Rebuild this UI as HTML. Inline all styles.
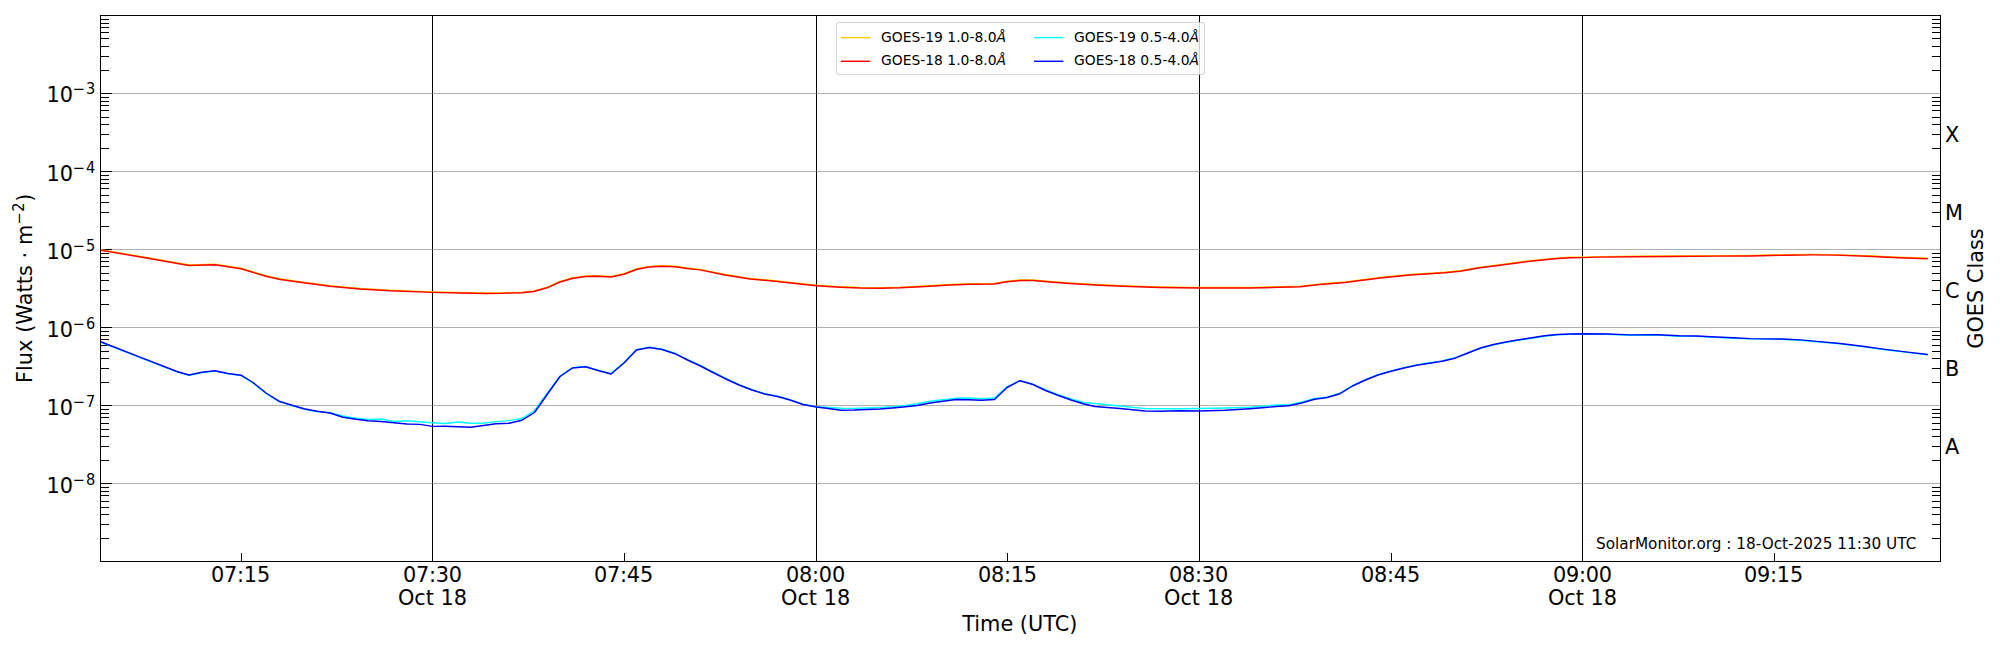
<!DOCTYPE html>
<html lang="en"><head><meta charset="utf-8"><title>GOES X-ray Flux</title>
<style>html,body{margin:0;padding:0;background:#fff;}body{width:2000px;height:650px;overflow:hidden;}svg{display:block;}text{font-family:"DejaVu Sans","Liberation Sans",sans-serif;fill:#000;}.i{font-family:"DejaVu Sans","Liberation Sans",sans-serif;font-style:italic;}</style></head><body>
<svg width="2000" height="650" viewBox="0 0 2000 650">
<rect x="0" y="0" width="2000" height="650" fill="#fff"/>
<g stroke="#000" stroke-width="1.1" shape-rendering="crispEdges">
<line x1="432.5" y1="15.5" x2="432.5" y2="561.5"/>
<line x1="816.5" y1="15.5" x2="816.5" y2="561.5"/>
<line x1="1199.5" y1="15.5" x2="1199.5" y2="561.5"/>
<line x1="1582.5" y1="15.5" x2="1582.5" y2="561.5"/>
</g>
<g stroke="#808080" stroke-opacity="0.62" stroke-width="1.1" shape-rendering="crispEdges">
<line x1="100.5" y1="93.5" x2="1940.5" y2="93.5"/>
<line x1="100.5" y1="171.5" x2="1940.5" y2="171.5"/>
<line x1="100.5" y1="249.5" x2="1940.5" y2="249.5"/>
<line x1="100.5" y1="327.5" x2="1940.5" y2="327.5"/>
<line x1="100.5" y1="405.5" x2="1940.5" y2="405.5"/>
<line x1="100.5" y1="483.5" x2="1940.5" y2="483.5"/>
</g>
<g stroke="#000" stroke-width="1.1" shape-rendering="crispEdges">
<line x1="100.5" y1="70.5" x2="108.8" y2="70.5"/>
<line x1="1932.2" y1="70.5" x2="1940.5" y2="70.5"/>
<line x1="100.5" y1="56.5" x2="108.8" y2="56.5"/>
<line x1="1932.2" y1="56.5" x2="1940.5" y2="56.5"/>
<line x1="100.5" y1="46.5" x2="108.8" y2="46.5"/>
<line x1="1932.2" y1="46.5" x2="1940.5" y2="46.5"/>
<line x1="100.5" y1="38.5" x2="108.8" y2="38.5"/>
<line x1="1932.2" y1="38.5" x2="1940.5" y2="38.5"/>
<line x1="100.5" y1="32.5" x2="108.8" y2="32.5"/>
<line x1="1932.2" y1="32.5" x2="1940.5" y2="32.5"/>
<line x1="100.5" y1="27.5" x2="108.8" y2="27.5"/>
<line x1="1932.2" y1="27.5" x2="1940.5" y2="27.5"/>
<line x1="100.5" y1="23.5" x2="108.8" y2="23.5"/>
<line x1="1932.2" y1="23.5" x2="1940.5" y2="23.5"/>
<line x1="100.5" y1="19.5" x2="108.8" y2="19.5"/>
<line x1="1932.2" y1="19.5" x2="1940.5" y2="19.5"/>
<line x1="100.5" y1="148.5" x2="108.8" y2="148.5"/>
<line x1="1932.2" y1="148.5" x2="1940.5" y2="148.5"/>
<line x1="100.5" y1="134.5" x2="108.8" y2="134.5"/>
<line x1="1932.2" y1="134.5" x2="1940.5" y2="134.5"/>
<line x1="100.5" y1="124.5" x2="108.8" y2="124.5"/>
<line x1="1932.2" y1="124.5" x2="1940.5" y2="124.5"/>
<line x1="100.5" y1="117.5" x2="108.8" y2="117.5"/>
<line x1="1932.2" y1="117.5" x2="1940.5" y2="117.5"/>
<line x1="100.5" y1="110.5" x2="108.8" y2="110.5"/>
<line x1="1932.2" y1="110.5" x2="1940.5" y2="110.5"/>
<line x1="100.5" y1="105.5" x2="108.8" y2="105.5"/>
<line x1="1932.2" y1="105.5" x2="1940.5" y2="105.5"/>
<line x1="100.5" y1="101.5" x2="108.8" y2="101.5"/>
<line x1="1932.2" y1="101.5" x2="1940.5" y2="101.5"/>
<line x1="100.5" y1="97.5" x2="108.8" y2="97.5"/>
<line x1="1932.2" y1="97.5" x2="1940.5" y2="97.5"/>
<line x1="100.5" y1="226.5" x2="108.8" y2="226.5"/>
<line x1="1932.2" y1="226.5" x2="1940.5" y2="226.5"/>
<line x1="100.5" y1="212.5" x2="108.8" y2="212.5"/>
<line x1="1932.2" y1="212.5" x2="1940.5" y2="212.5"/>
<line x1="100.5" y1="202.5" x2="108.8" y2="202.5"/>
<line x1="1932.2" y1="202.5" x2="1940.5" y2="202.5"/>
<line x1="100.5" y1="195.5" x2="108.8" y2="195.5"/>
<line x1="1932.2" y1="195.5" x2="1940.5" y2="195.5"/>
<line x1="100.5" y1="188.5" x2="108.8" y2="188.5"/>
<line x1="1932.2" y1="188.5" x2="1940.5" y2="188.5"/>
<line x1="100.5" y1="183.5" x2="108.8" y2="183.5"/>
<line x1="1932.2" y1="183.5" x2="1940.5" y2="183.5"/>
<line x1="100.5" y1="179.5" x2="108.8" y2="179.5"/>
<line x1="1932.2" y1="179.5" x2="1940.5" y2="179.5"/>
<line x1="100.5" y1="175.5" x2="108.8" y2="175.5"/>
<line x1="1932.2" y1="175.5" x2="1940.5" y2="175.5"/>
<line x1="100.5" y1="304.5" x2="108.8" y2="304.5"/>
<line x1="1932.2" y1="304.5" x2="1940.5" y2="304.5"/>
<line x1="100.5" y1="290.5" x2="108.8" y2="290.5"/>
<line x1="1932.2" y1="290.5" x2="1940.5" y2="290.5"/>
<line x1="100.5" y1="280.5" x2="108.8" y2="280.5"/>
<line x1="1932.2" y1="280.5" x2="1940.5" y2="280.5"/>
<line x1="100.5" y1="273.5" x2="108.8" y2="273.5"/>
<line x1="1932.2" y1="273.5" x2="1940.5" y2="273.5"/>
<line x1="100.5" y1="266.5" x2="108.8" y2="266.5"/>
<line x1="1932.2" y1="266.5" x2="1940.5" y2="266.5"/>
<line x1="100.5" y1="261.5" x2="108.8" y2="261.5"/>
<line x1="1932.2" y1="261.5" x2="1940.5" y2="261.5"/>
<line x1="100.5" y1="257.5" x2="108.8" y2="257.5"/>
<line x1="1932.2" y1="257.5" x2="1940.5" y2="257.5"/>
<line x1="100.5" y1="253.5" x2="108.8" y2="253.5"/>
<line x1="1932.2" y1="253.5" x2="1940.5" y2="253.5"/>
<line x1="100.5" y1="382.5" x2="108.8" y2="382.5"/>
<line x1="1932.2" y1="382.5" x2="1940.5" y2="382.5"/>
<line x1="100.5" y1="368.5" x2="108.8" y2="368.5"/>
<line x1="1932.2" y1="368.5" x2="1940.5" y2="368.5"/>
<line x1="100.5" y1="358.5" x2="108.8" y2="358.5"/>
<line x1="1932.2" y1="358.5" x2="1940.5" y2="358.5"/>
<line x1="100.5" y1="351.5" x2="108.8" y2="351.5"/>
<line x1="1932.2" y1="351.5" x2="1940.5" y2="351.5"/>
<line x1="100.5" y1="345.5" x2="108.8" y2="345.5"/>
<line x1="1932.2" y1="345.5" x2="1940.5" y2="345.5"/>
<line x1="100.5" y1="339.5" x2="108.8" y2="339.5"/>
<line x1="1932.2" y1="339.5" x2="1940.5" y2="339.5"/>
<line x1="100.5" y1="335.5" x2="108.8" y2="335.5"/>
<line x1="1932.2" y1="335.5" x2="1940.5" y2="335.5"/>
<line x1="100.5" y1="331.5" x2="108.8" y2="331.5"/>
<line x1="1932.2" y1="331.5" x2="1940.5" y2="331.5"/>
<line x1="100.5" y1="460.5" x2="108.8" y2="460.5"/>
<line x1="1932.2" y1="460.5" x2="1940.5" y2="460.5"/>
<line x1="100.5" y1="446.5" x2="108.8" y2="446.5"/>
<line x1="1932.2" y1="446.5" x2="1940.5" y2="446.5"/>
<line x1="100.5" y1="436.5" x2="108.8" y2="436.5"/>
<line x1="1932.2" y1="436.5" x2="1940.5" y2="436.5"/>
<line x1="100.5" y1="429.5" x2="108.8" y2="429.5"/>
<line x1="1932.2" y1="429.5" x2="1940.5" y2="429.5"/>
<line x1="100.5" y1="423.5" x2="108.8" y2="423.5"/>
<line x1="1932.2" y1="423.5" x2="1940.5" y2="423.5"/>
<line x1="100.5" y1="417.5" x2="108.8" y2="417.5"/>
<line x1="1932.2" y1="417.5" x2="1940.5" y2="417.5"/>
<line x1="100.5" y1="413.5" x2="108.8" y2="413.5"/>
<line x1="1932.2" y1="413.5" x2="1940.5" y2="413.5"/>
<line x1="100.5" y1="409.5" x2="108.8" y2="409.5"/>
<line x1="1932.2" y1="409.5" x2="1940.5" y2="409.5"/>
<line x1="100.5" y1="538.5" x2="108.8" y2="538.5"/>
<line x1="1932.2" y1="538.5" x2="1940.5" y2="538.5"/>
<line x1="100.5" y1="524.5" x2="108.8" y2="524.5"/>
<line x1="1932.2" y1="524.5" x2="1940.5" y2="524.5"/>
<line x1="100.5" y1="514.5" x2="108.8" y2="514.5"/>
<line x1="1932.2" y1="514.5" x2="1940.5" y2="514.5"/>
<line x1="100.5" y1="507.5" x2="108.8" y2="507.5"/>
<line x1="1932.2" y1="507.5" x2="1940.5" y2="507.5"/>
<line x1="100.5" y1="501.5" x2="108.8" y2="501.5"/>
<line x1="1932.2" y1="501.5" x2="1940.5" y2="501.5"/>
<line x1="100.5" y1="495.5" x2="108.8" y2="495.5"/>
<line x1="1932.2" y1="495.5" x2="1940.5" y2="495.5"/>
<line x1="100.5" y1="491.5" x2="108.8" y2="491.5"/>
<line x1="1932.2" y1="491.5" x2="1940.5" y2="491.5"/>
<line x1="100.5" y1="487.5" x2="108.8" y2="487.5"/>
<line x1="1932.2" y1="487.5" x2="1940.5" y2="487.5"/>
<line x1="100.5" y1="93.5" x2="111.6" y2="93.5"/>
<line x1="100.5" y1="171.5" x2="111.6" y2="171.5"/>
<line x1="100.5" y1="249.5" x2="111.6" y2="249.5"/>
<line x1="100.5" y1="327.5" x2="111.6" y2="327.5"/>
<line x1="100.5" y1="405.5" x2="111.6" y2="405.5"/>
<line x1="100.5" y1="483.5" x2="111.6" y2="483.5"/>
<line x1="241.5" y1="553.2" x2="241.5" y2="561.5"/>
<line x1="624.5" y1="553.2" x2="624.5" y2="561.5"/>
<line x1="1007.5" y1="553.2" x2="1007.5" y2="561.5"/>
<line x1="1391.5" y1="553.2" x2="1391.5" y2="561.5"/>
<line x1="1774.5" y1="553.2" x2="1774.5" y2="561.5"/>
</g>
<defs><clipPath id="ax"><rect x="101" y="16" width="1839" height="545"/></clipPath></defs><g clip-path="url(#ax)">
<polyline points="100.0,249.5 145.0,257.3 189.0,265.0 215.0,264.2 241.0,268.3 265.0,275.5 279.0,278.7 300.0,281.8 330.0,285.7 360.0,288.5 390.0,290.3 432.5,291.9 460.0,292.5 485.0,293.0 500.0,292.9 522.0,292.2 534.0,291.0 547.0,287.3 560.0,281.5 573.0,277.7 586.0,276.0 598.0,275.8 611.0,276.5 624.0,273.7 637.0,268.7 649.0,266.5 662.0,265.7 675.0,266.2 687.0,268.0 700.0,269.4 725.0,274.5 750.0,278.5 775.0,280.7 800.0,283.5 816.5,285.3 840.0,286.7 860.0,287.5 880.0,287.7 900.0,287.3 925.0,286.0 950.0,284.5 970.0,283.8 994.0,283.5 1007.0,281.3 1020.0,280.0 1033.0,280.0 1050.0,281.5 1070.0,283.0 1100.0,284.7 1130.0,286.0 1160.0,287.0 1199.5,287.5 1250.0,287.5 1280.0,286.8 1300.0,286.3 1320.0,284.0 1345.0,282.0 1380.0,277.5 1410.0,274.5 1445.0,272.2 1460.0,270.7 1480.0,267.3 1500.0,264.8 1530.0,260.8 1555.0,258.2 1570.0,257.3 1582.5,257.1 1598.0,256.6 1635.0,256.2 1670.0,256.0 1715.0,255.6 1750.0,255.5 1786.0,254.7 1813.0,254.4 1835.5,254.6 1867.0,255.8 1898.5,257.3 1927.8,258.2" fill="none" stroke="#ffcc00" stroke-width="1.45" stroke-linejoin="round" stroke-linecap="butt"/>
<polyline points="100.0,250.0 145.0,257.8 189.0,265.5 215.0,264.7 241.0,268.8 265.0,276.0 279.0,279.2 300.0,282.3 330.0,286.2 360.0,289.0 390.0,290.8 432.5,292.4 460.0,293.0 485.0,293.5 500.0,293.4 522.0,292.7 534.0,291.5 547.0,287.8 560.0,282.0 573.0,278.2 586.0,276.5 598.0,276.3 611.0,277.0 624.0,274.2 637.0,269.2 649.0,267.0 662.0,266.2 675.0,266.7 687.0,268.5 700.0,269.9 725.0,275.0 750.0,279.0 775.0,281.2 800.0,284.0 816.5,285.8 840.0,287.2 860.0,288.0 880.0,288.2 900.0,287.8 925.0,286.5 950.0,285.0 970.0,284.3 994.0,284.0 1007.0,281.8 1020.0,280.5 1033.0,280.5 1050.0,282.0 1070.0,283.5 1100.0,285.2 1130.0,286.5 1160.0,287.5 1199.5,288.0 1250.0,288.0 1280.0,287.3 1300.0,286.8 1320.0,284.5 1345.0,282.5 1380.0,278.0 1410.0,275.0 1445.0,272.7 1460.0,271.2 1480.0,267.8 1500.0,265.3 1530.0,261.3 1555.0,258.7 1570.0,257.8 1582.5,257.6 1598.0,257.1 1635.0,256.8 1670.0,256.5 1715.0,256.1 1750.0,256.0 1786.0,255.2 1813.0,254.9 1835.5,255.1 1867.0,256.2 1898.5,257.8 1927.8,258.8" fill="none" stroke="#ff0000" stroke-width="1.45" stroke-linejoin="round" stroke-linecap="butt"/>
<polyline points="100.0,341.9 140.0,357.6 177.0,371.9 189.0,375.4 202.0,372.6 215.0,371.1 228.0,373.9 241.0,375.6 253.0,382.9 266.0,393.4 279.0,401.6 292.0,405.6 304.0,409.1 317.0,411.6 330.0,412.8 343.0,416.0 356.0,418.2 368.0,419.5 381.0,419.0 394.0,421.5 407.0,420.8 420.0,421.7 432.5,422.7 445.0,423.5 458.0,422.0 470.5,423.2 483.5,423.3 496.0,421.6 509.0,420.6 522.0,418.5 534.5,410.5 547.5,393.0 560.0,376.1 572.5,367.6 585.5,366.4 598.0,370.1 611.0,373.6 624.0,362.6 636.5,349.6 649.5,347.1 662.0,349.1 675.0,353.3 687.5,359.6 700.5,365.6 713.0,372.1 726.0,378.6 739.0,384.6 752.0,389.6 764.5,393.6 777.5,396.1 790.0,399.6 803.0,404.1 816.5,406.8 828.5,407.5 841.0,408.2 854.0,408.4 867.0,408.0 880.0,407.5 892.5,406.8 905.5,405.5 917.0,403.7 930.0,401.2 943.0,399.8 956.0,398.2 969.0,398.0 981.5,398.7 994.5,398.0 1007.0,386.8 1020.0,380.6 1033.0,384.3 1045.5,390.0 1058.5,395.0 1071.0,399.0 1084.0,402.5 1095.0,403.5 1120.0,406.0 1145.0,408.6 1160.0,408.8 1180.0,408.8 1199.5,408.5 1225.0,408.0 1250.0,407.3 1265.0,406.0 1276.0,405.0 1289.0,404.8 1301.5,402.2 1314.5,398.5 1327.0,397.2 1340.0,393.3 1352.5,385.6 1365.5,379.6 1378.0,374.6 1391.0,370.9 1404.0,367.6 1416.5,364.9 1429.5,362.8 1442.0,360.9 1455.0,357.8 1468.0,352.6 1480.5,348.4 1493.5,344.9 1506.0,342.4 1519.0,340.1 1532.0,338.2 1544.5,336.2 1557.5,334.9 1570.0,334.4 1582.5,334.2 1607.0,334.4 1630.0,335.2 1658.0,335.1 1679.0,336.2 1697.0,336.4 1710.5,337.1 1733.0,338.2 1750.0,338.9 1781.5,339.4 1800.4,340.2 1822.0,342.2 1840.0,343.9 1862.5,346.6 1885.0,349.7 1907.5,352.4 1927.8,354.9" fill="none" stroke="#00ffff" stroke-width="1.45" stroke-linejoin="round" stroke-linecap="butt"/>
<polyline points="100.0,341.5 140.0,357.1 177.0,371.5 189.0,375.0 202.0,372.2 215.0,370.7 228.0,373.5 241.0,375.2 253.0,382.5 266.0,393.0 279.0,401.2 292.0,405.2 304.0,408.7 317.0,411.2 330.0,413.0 343.0,417.2 356.0,419.2 368.0,420.7 381.0,421.5 394.0,422.7 407.0,424.0 420.0,424.4 432.5,426.4 445.0,426.3 458.0,426.8 470.5,427.2 483.5,425.5 496.0,423.8 509.0,423.2 522.0,420.2 534.5,412.5 547.5,394.0 560.0,376.5 572.5,368.0 585.5,366.8 598.0,370.5 611.0,374.0 624.0,363.0 636.5,350.0 649.5,347.5 662.0,349.5 675.0,353.7 687.5,360.0 700.5,366.0 713.0,372.5 726.0,379.0 739.0,385.0 752.0,390.0 764.5,394.0 777.5,396.5 790.0,400.0 803.0,404.5 816.5,407.0 828.5,408.5 841.0,410.2 854.0,410.0 867.0,409.5 880.0,409.0 892.5,408.0 905.5,406.8 917.0,405.5 930.0,403.0 943.0,401.2 956.0,399.5 969.0,399.7 981.5,400.3 994.5,399.5 1007.0,387.5 1020.0,380.7 1033.0,384.5 1045.5,390.5 1058.5,395.5 1071.0,400.0 1084.0,404.0 1095.0,406.5 1120.0,408.5 1145.0,411.0 1160.0,411.2 1180.0,410.8 1199.5,411.0 1225.0,410.2 1250.0,408.7 1265.0,407.5 1276.0,406.5 1289.0,405.8 1301.5,403.0 1314.5,399.2 1327.0,397.5 1340.0,393.7 1352.5,386.0 1365.5,380.0 1378.0,375.0 1391.0,371.3 1404.0,368.0 1416.5,365.3 1429.5,363.2 1442.0,361.3 1455.0,358.2 1468.0,353.0 1480.5,348.0 1493.5,344.5 1506.0,342.0 1519.0,339.7 1532.0,337.8 1544.5,335.8 1557.5,334.5 1570.0,334.0 1582.5,333.8 1607.0,334.0 1630.0,334.9 1658.0,334.7 1679.0,335.8 1697.0,336.0 1710.5,336.7 1733.0,337.8 1750.0,338.6 1781.5,339.0 1800.4,339.9 1822.0,341.9 1840.0,343.5 1862.5,346.2 1885.0,349.4 1907.5,352.1 1927.8,354.5" fill="none" stroke="#0000ff" stroke-width="1.45" stroke-linejoin="round" stroke-linecap="butt"/>
</g>
<rect x="100.5" y="15.5" width="1840.0" height="546.0" fill="none" stroke="#000" stroke-width="1.1" shape-rendering="crispEdges"/>
<text x="46.6" y="101.9" font-size="20.83">10</text>
<text x="72.4" y="94.0" font-size="14.58">−</text>
<text transform="translate(86.1,94.0) scale(1,1.12)" font-size="14.58">3</text>
<text x="46.6" y="180.8" font-size="20.83">10</text>
<text x="72.4" y="172.9" font-size="14.58">−</text>
<text transform="translate(86.1,172.9) scale(1,1.12)" font-size="14.58">4</text>
<text x="46.6" y="258.8" font-size="20.83">10</text>
<text x="72.4" y="250.9" font-size="14.58">−</text>
<text transform="translate(86.1,250.9) scale(1,1.12)" font-size="14.58">5</text>
<text x="46.6" y="336.8" font-size="20.83">10</text>
<text x="72.4" y="328.9" font-size="14.58">−</text>
<text transform="translate(86.1,328.9) scale(1,1.12)" font-size="14.58">6</text>
<text x="46.6" y="414.8" font-size="20.83">10</text>
<text x="72.4" y="406.9" font-size="14.58">−</text>
<text transform="translate(86.1,406.9) scale(1,1.12)" font-size="14.58">7</text>
<text x="46.6" y="492.8" font-size="20.83">10</text>
<text x="72.4" y="484.9" font-size="14.58">−</text>
<text transform="translate(86.1,484.9) scale(1,1.12)" font-size="14.58">8</text>
<text x="211.05" y="581.7" font-size="20.83" textLength="59.1" lengthAdjust="spacing">07:15</text>
<text x="403.00" y="581.7" font-size="20.83" textLength="59.1" lengthAdjust="spacing">07:30</text>
<text x="432.55" y="604.6" font-size="20.83" text-anchor="middle">Oct 18</text>
<text x="594.05" y="581.7" font-size="20.83" textLength="59.1" lengthAdjust="spacing">07:45</text>
<text x="786.05" y="581.7" font-size="20.83" textLength="59.1" lengthAdjust="spacing">08:00</text>
<text x="815.60" y="604.6" font-size="20.83" text-anchor="middle">Oct 18</text>
<text x="978.00" y="581.7" font-size="20.83" textLength="59.1" lengthAdjust="spacing">08:15</text>
<text x="1169.05" y="581.7" font-size="20.83" textLength="59.1" lengthAdjust="spacing">08:30</text>
<text x="1198.60" y="604.6" font-size="20.83" text-anchor="middle">Oct 18</text>
<text x="1361.05" y="581.7" font-size="20.83" textLength="59.1" lengthAdjust="spacing">08:45</text>
<text x="1553.00" y="581.7" font-size="20.83" textLength="59.1" lengthAdjust="spacing">09:00</text>
<text x="1582.55" y="604.6" font-size="20.83" text-anchor="middle">Oct 18</text>
<text x="1744.05" y="581.7" font-size="20.83" textLength="59.1" lengthAdjust="spacing">09:15</text>
<text x="1019.8" y="630.5" font-size="20.83" text-anchor="middle">Time (UTC)</text>
<g transform="translate(32.3,288.5) rotate(-90)">
<text x="-94.6" y="0" font-size="20.83" textLength="158.3" lengthAdjust="spacing">Flux (Watts · m</text>
<text x="63.8" y="-7.9" font-size="14.58">−</text>
<text transform="translate(76.8,-7.9) scale(1,1.12)" font-size="14.58">2</text>
<text x="86.8" y="0" font-size="20.83">)</text>
</g>
<text x="1944.9" y="141.9" font-size="20.83">X</text>
<text x="1944.9" y="219.9" font-size="20.83">M</text>
<text x="1944.9" y="297.9" font-size="20.83">C</text>
<text x="1944.9" y="375.9" font-size="20.83">B</text>
<text x="1944.9" y="453.9" font-size="20.83">A</text>
<text transform="translate(1983.2,288.5) rotate(-90)" font-size="20.83" text-anchor="middle">GOES Class</text>
<text x="1596" y="548.5" font-size="15.28">SolarMonitor.org : 18-Oct-2025 11:30 UTC</text>
<rect x="836.5" y="22.5" width="368" height="52" rx="2.8" ry="2.8" fill="#fff" fill-opacity="0.8" stroke="#ccc" stroke-opacity="0.8" stroke-width="1.1"/>
<line x1="840.8" y1="37.6" x2="870.1999999999999" y2="37.6" stroke="#ffcc00" stroke-width="1.45"/>
<text x="881" y="42.0" font-size="13.89">GOES-19 1.0-8.0<tspan class="i">Å</tspan></text>
<line x1="840.8" y1="61.3" x2="870.1999999999999" y2="61.3" stroke="#ff0000" stroke-width="1.45"/>
<text x="881" y="64.6" font-size="13.89">GOES-18 1.0-8.0<tspan class="i">Å</tspan></text>
<line x1="1034" y1="37.6" x2="1063.4" y2="37.6" stroke="#00ffff" stroke-width="1.45"/>
<text x="1074" y="42.0" font-size="13.89">GOES-19 0.5-4.0<tspan class="i">Å</tspan></text>
<line x1="1034" y1="61.3" x2="1063.4" y2="61.3" stroke="#0000ff" stroke-width="1.45"/>
<text x="1074" y="64.6" font-size="13.89">GOES-18 0.5-4.0<tspan class="i">Å</tspan></text>
</svg></body></html>
